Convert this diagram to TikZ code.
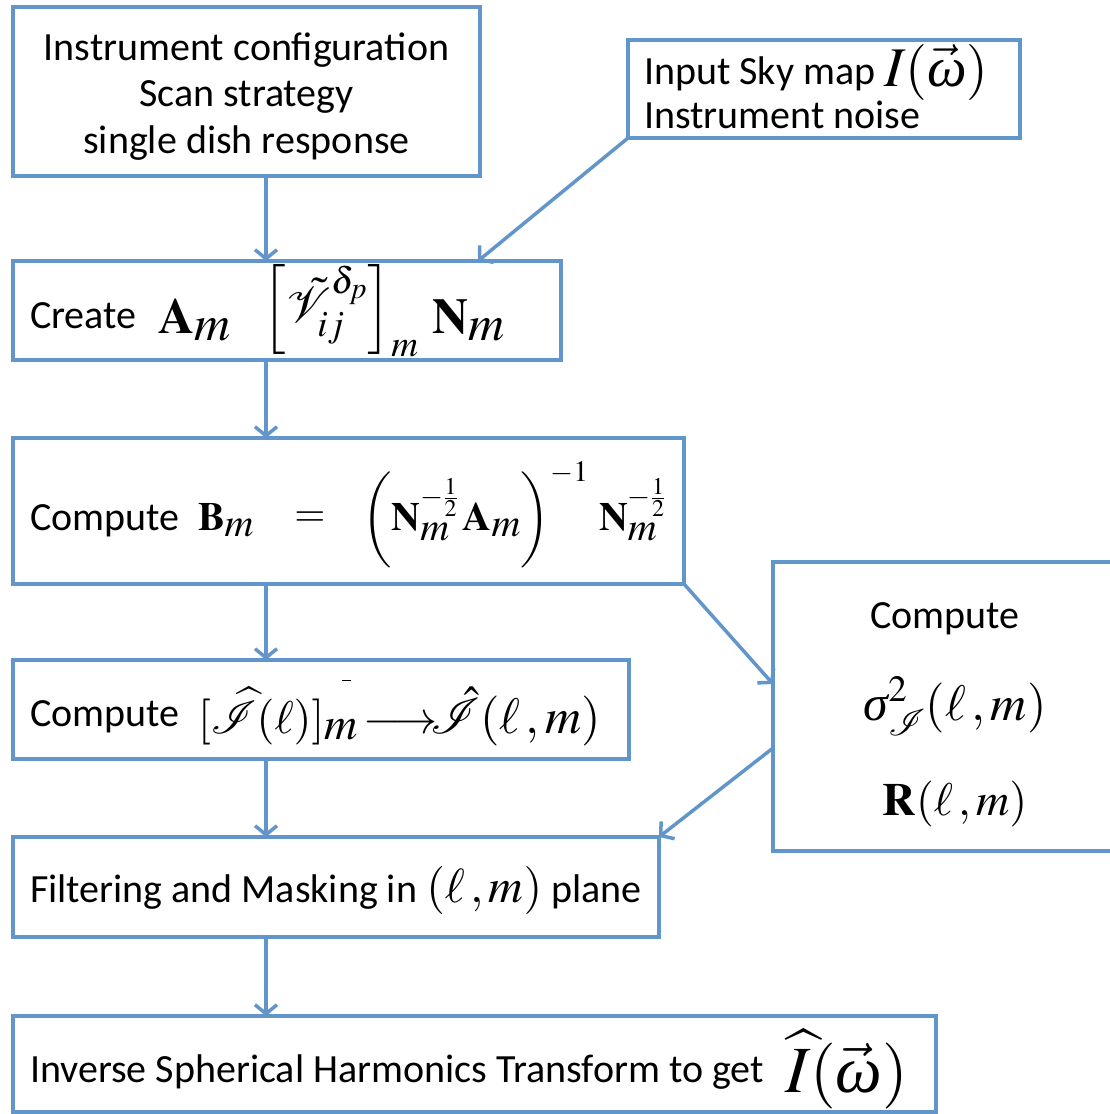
\documentclass[tikz,border=0pt]{standalone}
\usepackage{mathptmx}
\usepackage[no-math]{fontspec}
\setmainfont{Carlito}
\newfontfamily\lserif{Liberation Serif}
\usetikzlibrary{arrows.meta}
\definecolor{boxblue}{RGB}{98,149,202}
\newcommand\fs[1]{\fontsize{#1}{#1}\selectfont}
\newcommand\gom{\vec{\mbox{\lserif\itshape ω}}}
\newcommand\gsig{\mbox{\lserif\itshape σ}}
\tikzset{
 box/.style={draw=boxblue, line width=3.5pt, inner sep=0pt, outer sep=0pt, rectangle},
 arr/.style={draw=boxblue, line width=3.5pt, -{Straight Barb[length=9pt,width=22pt]}},
 txt/.style={inner sep=0pt, outer sep=0pt, font=\fontsize{40}{47}\selectfont, anchor=base west},
}
\begin{document}
\begin{tikzpicture}[x=1pt,y=-1pt]
\useasboundingbox (0,0) rectangle (1110,1114);
% boxes
\node[box, minimum width=467pt, minimum height=169pt] (b1) at (246.5,91.5) {};
\node[box, minimum width=392pt, minimum height=98pt] (b2) at (824,89) {};
\node[box, minimum width=548pt, minimum height=99pt] (b3) at (287,310.5) {};
\node[box, minimum width=671pt, minimum height=146pt] (b4) at (348.5,511) {};
\node[box, minimum width=616pt, minimum height=99pt] (b5) at (321,709.5) {};
\node[box, minimum width=345pt, minimum height=289pt] (b6) at (945.5,706.5) {};
\node[box, minimum width=646pt, minimum height=100pt] (b7) at (336,887) {};
\node[box, minimum width=923pt, minimum height=96pt] (b8) at (474.5,1064) {};
% texts
\node[txt, anchor=base] (t1a) at (246.5,60) {Instrument configuration};
\node[txt, anchor=base] (t1b) at (246.5,106) {Scan strategy};
\node[txt, anchor=base] (t1c) at (246.5,153) {single dish response};
\node[txt] (t2a) at (644,84) {Input Sky map};
\node[txt] (m2) at (884,86) {\fs{56}$I(\gom)$};
\node[txt] (t2b) at (644,128) {Instrument noise};
\node[txt] (t3) at (30,328) {Create};
\node[txt] (m3) at (158,333) {\fs{50}$\mathbf{A}_{\textstyle m}\hspace{32pt}\raisebox{11pt}{$\left[\tilde{\mathcal V}^{\delta_p}_{ij}\right]_{m}$}\hspace{14pt}\mathbf{N}_{\textstyle m}$};
\node[txt] (t4) at (30,530) {Compute};
\node[txt] (m4a) at (198,530) {\fs{40}$\mathbf{B}_{\textstyle m}$};
\node[txt, anchor=center] (m4b) at (310,519) {\fs{40}$=$};
\node[txt] (m4c) at (362,530) {\fs{40}$\left(\vrule height 60pt depth 32pt width 0pt\mathbf{N}_{\textstyle m}^{-\frac{1}{2}}\,\mathbf{A}_{\textstyle m}\right)^{-1}\hspace{6pt}\mathbf{N}_{\textstyle m}^{-\frac{1}{2}}$};
\node[txt] (t5) at (30,726) {Compute};
\node[txt] (m5a) at (198,733) {\fs{46}$[\widehat{\mathcal I}(\ell)]_{\textstyle m}\llap{\raisebox{52pt}{\rule{9pt}{1.5pt}}\hspace{7pt}}\!\longrightarrow$};
\node[txt] (m5b) at (430,733) {\fs{50}$\hat{\mathcal I}(\ell\,,m)$};
\node[txt, anchor=base] (t6) at (945,628) {Compute};
\node[txt, anchor=base] (m6a) at (955,720) {\fs{50}$\gsig^2_{\mathcal I}(\ell\,,m)$};
\node[txt, anchor=base] (m6b) at (955,815) {\fs{46}$\mathbf{R}(\ell\,,m)$};
\node[txt] (t7) at (30,902) {Filtering and Masking in {\fs{48}$(\ell\,,m)$} plane};
\node[txt] (t8) at (30,1082) {Inverse Spherical Harmonics Transform to get};
\node[txt] (m8) at (785,1092) {\fs{66}$\widehat{I}(\gom)$};
% connectors
\coordinate (cx) at (266,0);
\coordinate (c23) at (478,0);
\coordinate (c46) at (0,684);
\coordinate (c67) at (0,748);
\draw[arr] (b1.south -| cx) -- (b3.north -| cx);
\draw[arr] (b2.south west) -- (b3.north -| c23);
\draw[arr] (b3.south -| cx) -- (b4.north -| cx);
\draw[arr] (b4.south -| cx) -- (b5.north -| cx);
\draw[arr] (b4.south east) -- (b6.west |- c46);
\draw[arr] (b5.south -| cx) -- (b7.north -| cx);
\draw[arr] (b6.west |- c67) -- (b7.north east);
\draw[arr] (b7.south -| cx) -- (b8.north -| cx);
\end{tikzpicture}
\end{document}
